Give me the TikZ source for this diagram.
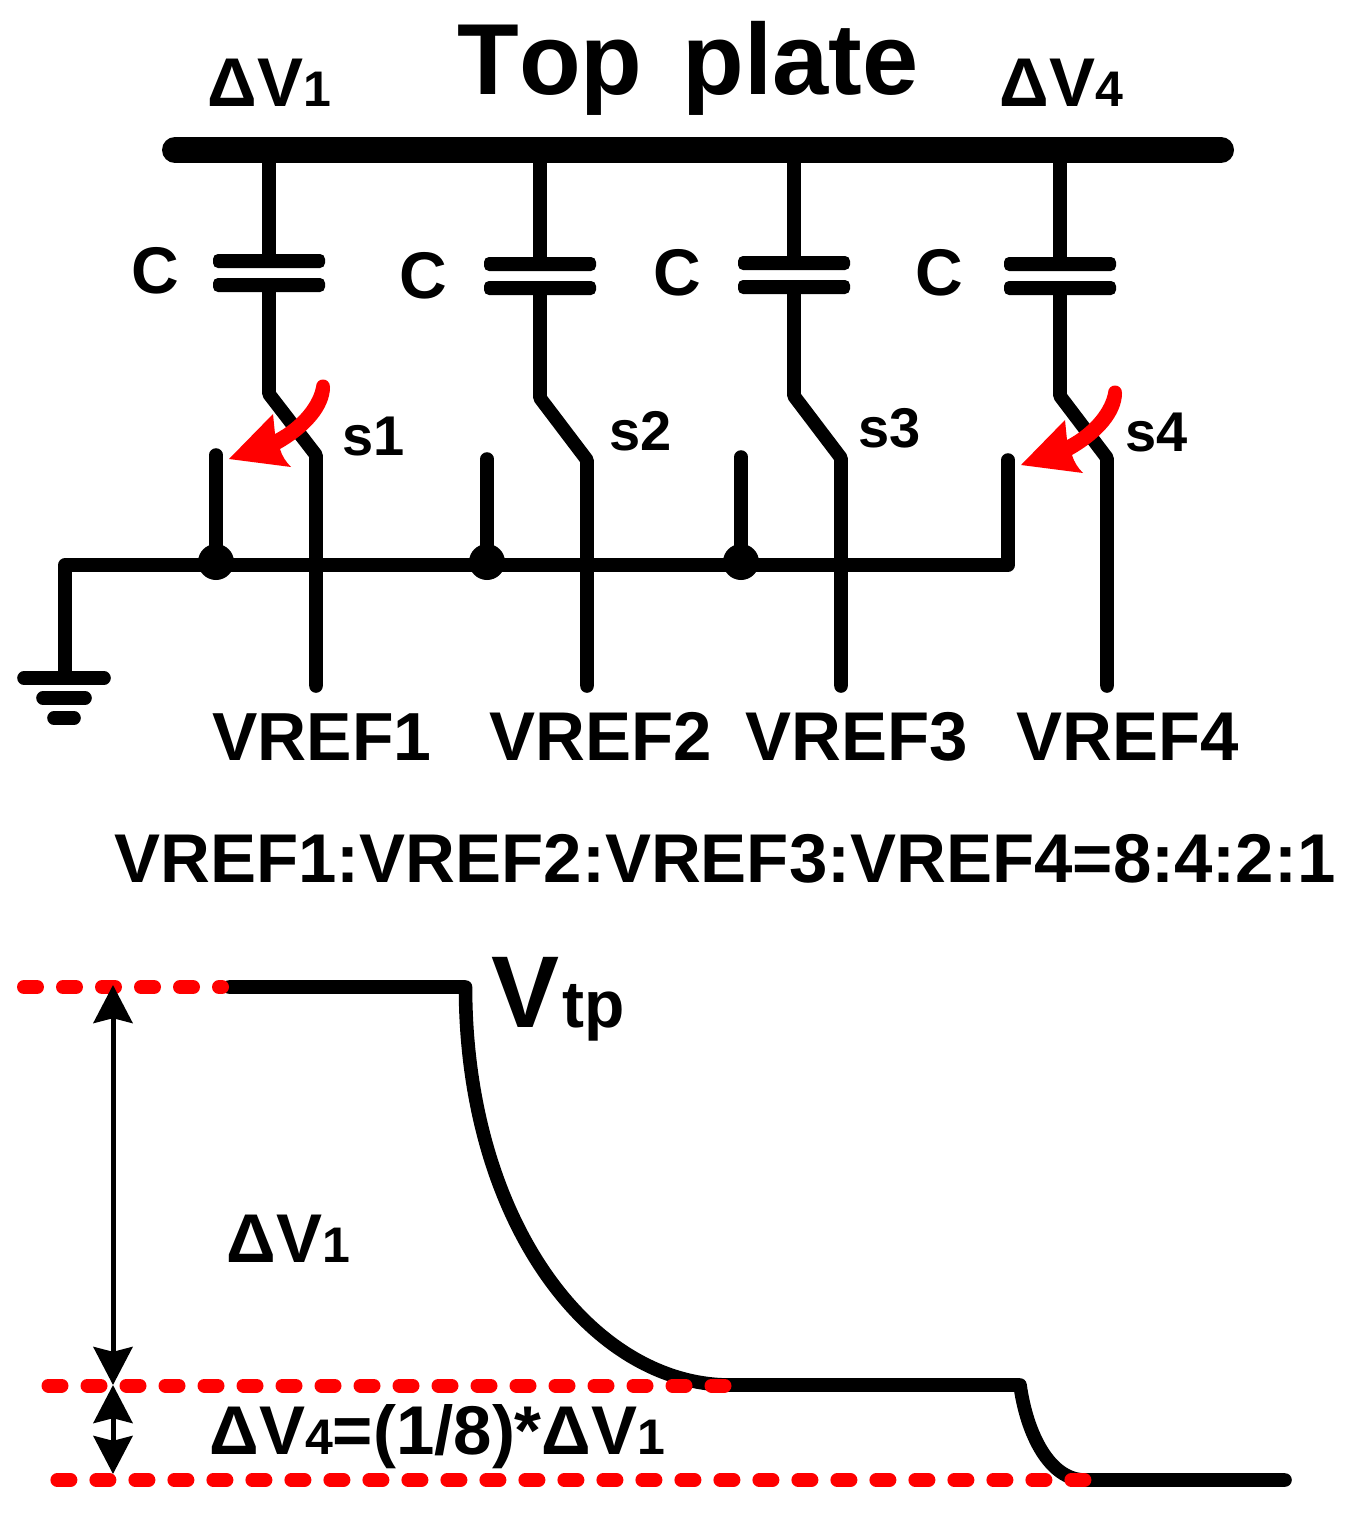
\documentclass[tikz,border=0pt]{standalone}
\usepackage{fontspec}
\setmainfont{Liberation Sans}[BoldFont={Liberation Sans Bold},Kerning=Off]
\usetikzlibrary{arrows.meta}
\tikzset{
  x=0.5pt,y=-0.5pt,
  wire/.style={line width=6.8pt,line cap=round,line join=round},
  bus/.style={line width=13pt,line cap=round},
  dot/.style={circle,fill=black,inner sep=0pt,minimum size=18pt},
  lab/.style={anchor=base west,inner sep=0pt,font=\bfseries},
  reddash/.style={draw=red,line width=7pt,line cap=round,dash pattern=on 6.5pt off 13pt},
  dim/.style={line width=2.5pt,{Stealth[length=19pt,width=19.5pt,inset=2.4pt]}-{Stealth[length=19pt,width=19.5pt,inset=2.4pt]}},
}
\newcommand{\fs}[1]{\fontsize{#1}{#1}\selectfont}
\newcommand{\dv}[1]{{\fs{34.5}ΔV}{\fs{25}#1}}
\newcommand{\redarrowpath}{(1122,393) .. controls (1122,415) and (1102,438) .. (1072,455)
  .. controls (1074,462) and (1078,468) .. (1083,473) -- (1021,465) -- (1065,420) -- (1067,440)
  .. controls (1086,430) and (1104,412) .. (1108,393) .. controls (1108,383) and (1122,383) .. (1122,393) -- cycle}
\begin{document}
\begin{tikzpicture}
\useasboundingbox (0,0) rectangle (1349,1520);
% top plate
\coordinate (busL) at (175,150); \coordinate (busR) at (1221,150);
\draw[bus] (busL) -- (busR);
\node[lab] (title) at (457,95) {\fs{50.5}Top\hspace{6pt} plate};
\node[lab] (dv1) at (207,106) {\dv{1}};
\node[lab] (dv4) at (999,106) {\dv{4}};
% ground rail
\coordinate (gt) at (65,565); \coordinate (gb) at (65,678);
\coordinate (railR) at (1008,565); \coordinate (c4top) at (1008,460);
\draw[wire] (gb) -- (gt) -- (railR) -- (c4top);
\coordinate (g1a) at (24,678); \coordinate (g1b) at (104,678);
\coordinate (g2a) at (43,698); \coordinate (g2b) at (85,698);
\coordinate (g3a) at (54,718); \coordinate (g3b) at (74,718);
\draw[wire] (g1a) -- (g1b);
\draw[wire] (g2a) -- (g2b);
\draw[wire] (g3a) -- (g3b);
% branches
\foreach \n/\x/\cy/\ys/\xv/\ty in {
  1/269/261/394/316/455,
  2/540/264/398/587/460,
  3/794/263/396/841/458,
  4/1060/264/396/1107/458}{
  \coordinate (t\n) at (\x,150);
  \coordinate (pa\n) at (\x,\cy);
  \coordinate (pb\n) at (\x,\cy+24);
  \coordinate (k\n) at (\x,\ys);
  \coordinate (e\n) at (\xv,\ty);
  \coordinate (v\n) at (\xv,686);
  \draw[wire] (t\n) -- (pa\n);
  \draw[wire] (pb\n) -- (k\n) -- (e\n) -- (v\n);
  \fill[rounded corners=2.5pt] (\x-56,\cy-7) rectangle (\x+56,\cy+7);
  \fill[rounded corners=2.5pt] (\x-56,\cy+17) rectangle (\x+56,\cy+31);
}
% contacts with dots
\foreach \n/\x/\y in {1/216/455,2/487/459,3/741/457}{
  \node[dot] (j\n) at (\x,562) {};
  \coordinate (u\n) at (\x,\y);
  \draw[wire] (j\n.center) -- (u\n);
}
% labels
\node[lab] (c1) at (131,293) {\fs{33}C};
\node[lab] (c2) at (399,298) {\fs{33}C};
\node[lab] (c3) at (653,295) {\fs{33}C};
\node[lab] (c4) at (915,295) {\fs{33}C};
\node[lab] (s1) at (342,455) {\fs{28}s1};
\node[lab] (s2) at (609,450) {\fs{28}s2};
\node[lab] (s3) at (858,447) {\fs{28}s3};
\node[lab] (s4) at (1125,451) {\fs{28}s4};
\node[lab] (r1) at (212,760) {\fs{34}VREF1};
\node[lab] (r2) at (489,760) {\fs{34.5}VREF2};
\node[lab] (r3) at (745,760) {\fs{34.5}VREF3};
\node[lab] (r4) at (1016,760) {\fs{34.5}VREF4};
\node[lab] (ratio) at (114,882) {\fs{34.5}VREF1:VREF2:VREF3:VREF4=8:4:2:1};
% red switch arrows
\fill[red] \redarrowpath;
\begin{scope}[shift={(-792,-6)}]
\fill[red] \redarrowpath;
\end{scope}
% waveform
\coordinate (w0) at (229,987); \coordinate (w1) at (465.5,987);
\coordinate (w2) at (730,1385); \coordinate (w3) at (1020,1385);
\coordinate (w4) at (1085,1480); \coordinate (w5) at (1285,1480);
\draw[wire] (w0) -- (w1) .. controls (465.5,1220) and (590,1385) .. (w2) -- (w3) .. controls (1027,1435) and (1050,1480) .. (w4) -- (w5);
% red dashes
\coordinate (d1a) at (24,987); \coordinate (d1b) at (222,987);
\coordinate (d2a) at (48.5,1385.5); \coordinate (d2b) at (725,1385.5);
\coordinate (d3a) at (57.4,1480); \coordinate (d3b) at (1085,1480);
\draw[reddash] (d1a) -- (d1b);
\draw[reddash] (d2a) -- (d2b);
\draw[reddash] (d3a) -- (d3b);
% dimension arrows
\coordinate (a1) at (113,985); \coordinate (a2) at (113,1385); \coordinate (a3) at (113,1474);
\draw[dim] (a1) -- (a2);
\draw[dim] (a2) -- (a3);
% labels
\node[lab] (vtp) at (491,1027) {\fs{51}V\hspace{1.5pt}\fs{33}tp};
\node[lab] (dvb) at (226,1262) {\dv{1}};
\node[lab] (eq) at (209,1454) {\dv{4}\fs{34.5}=(1/8)*\dv{1}};
\end{tikzpicture}
\end{document}
